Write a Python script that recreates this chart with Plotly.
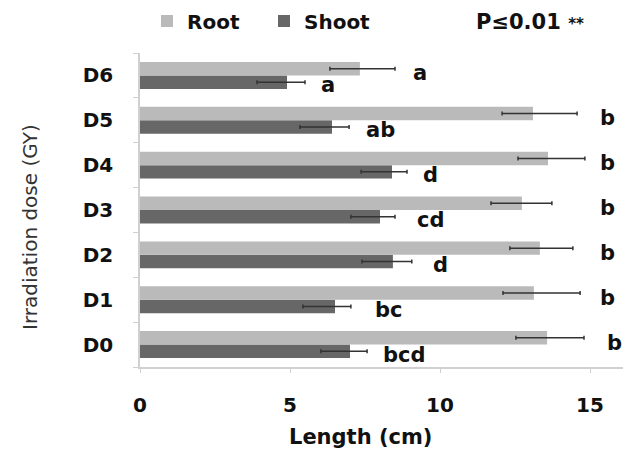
import plotly.graph_objects as go

categories = ["D0", "D1", "D2", "D3", "D4", "D5", "D6"]

root_values = [13.57, 13.13, 13.33, 12.73, 13.60, 13.10, 7.33]
root_err_plus = [1.23, 1.54, 1.10, 1.00, 1.23, 1.47, 1.17]
root_err_minus = [1.04, 1.03, 1.00, 1.03, 1.00, 1.03, 1.00]
root_letters = ["b", "b", "b", "b", "b", "b", "a"]
root_letter_x = [15.83, 15.57, 15.57, 15.57, 15.57, 15.57, 9.33]

shoot_values = [7.00, 6.50, 8.43, 8.00, 8.40, 6.40, 4.90]
shoot_err_plus = [0.57, 0.53, 0.63, 0.50, 0.50, 0.57, 0.60]
shoot_err_minus = [0.97, 1.07, 1.03, 0.97, 1.03, 1.07, 1.00]
shoot_letters = ["bcd", "bc", "d", "cd", "d", "ab", "a"]
shoot_letter_x = [8.80, 8.27, 10.00, 9.67, 9.67, 8.00, 6.27]

x_ticks = [0, 5, 10, 15]

ROOT_COLOR = "#bababa"
SHOOT_COLOR = "#676767"
ERR_COLOR = "#333333"
FONT = "DejaVu Sans"
W, H = 632, 452
ML, MR, MT, MB = 140, 9, 53, 85
PW, PH = W - ML - MR, H - MT - MB

fig = go.Figure()
fig.add_trace(go.Bar(
    y=categories, x=shoot_values, orientation="h", name="Shoot",
    marker=dict(color=SHOOT_COLOR, line=dict(width=0)),
    error_x=dict(type="data", symmetric=False, array=shoot_err_plus,
                 arrayminus=shoot_err_minus, color=ERR_COLOR, thickness=1.5, width=2),
))
fig.add_trace(go.Bar(
    y=categories, x=root_values, orientation="h", name="Root",
    marker=dict(color=ROOT_COLOR, line=dict(width=0)),
    error_x=dict(type="data", symmetric=False, array=root_err_plus,
                 arrayminus=root_err_minus, color=ERR_COLOR, thickness=1.5, width=2),
))

annotations = []
for cat, lx, lt in zip(categories, root_letter_x, root_letters):
    annotations.append(dict(x=lx, y=cat, xref="x", yref="y", text=lt, showarrow=False,
                            yshift=2, font=dict(family=FONT, size=21, color="#111111", weight="bold")))
for cat, lx, lt in zip(categories, shoot_letter_x, shoot_letters):
    annotations.append(dict(x=lx, y=cat, xref="x", yref="y", text=lt, showarrow=False,
                            yshift=-10, font=dict(family=FONT, size=21, color="#111111", weight="bold")))
annotations.append(dict(x=(30 - ML) / PW, y=(H - MB - 227) / PH, xref="paper", yref="paper",
                        xanchor="center", yanchor="middle",
                        text="Irradiation dose (GY)", textangle=-90, showarrow=False,
                        font=dict(family=FONT, size=20, color="#333333")))
annotations.append(dict(x=(530 - ML) / PW, y=1 + (MT - 22) / PH, xref="paper", yref="paper",
                        xanchor="center", yanchor="middle",
                        text="P≤0.01 <span style='font-size:15px'>**</span>",
                        showarrow=False, font=dict(family=FONT, size=21, color="#111111", weight="bold")))
annotations.append(dict(x=(360 - ML) / PW, y=-(437 - (H - MB)) / PH, xref="paper", yref="paper",
                        xanchor="center", yanchor="middle", text="Length (cm)", showarrow=False,
                        font=dict(family=FONT, size=21, color="#111111", weight="bold")))

fig.update_layout(
    width=W, height=H,
    margin=dict(l=ML, r=MR, t=MT, b=MB, autoexpand=False),
    paper_bgcolor="white", plot_bgcolor="white",
    barmode="group", bargap=0.4, bargroupgap=0,
    showlegend=True,
    legend=dict(orientation="h", traceorder="reversed",
                xref="container", x=147 / W, xanchor="left",
                yref="container", y=1 - 21 / H, yanchor="middle",
                entrywidth=72, entrywidthmode="pixels",
                font=dict(family=FONT, size=20, color="#111111", weight="bold"),
                bgcolor="rgba(0,0,0,0)", itemclick=False),
    annotations=annotations,
    xaxis=dict(range=[0, 16.1], tickvals=x_ticks, ticktext=[str(t) for t in x_ticks],
               showgrid=False, zeroline=False, showline=True, linecolor="#d0d0d0", linewidth=1.5,
               ticks="outside", ticklen=4, tickcolor="#d0d0d0", ticklabelstandoff=15,
               automargin=False,
               tickfont=dict(family=FONT, size=20, color="#111111", weight="bold"),
               fixedrange=True),
    yaxis=dict(range=[-0.5, 6.5], showgrid=False, zeroline=False, showline=True,
               linecolor="#d0d0d0", linewidth=1.5, ticks="outside", ticklen=5, tickcolor="#d0d0d0",
               tickson="boundaries", ticklabelstandoff=21, automargin=False,
               tickfont=dict(family=FONT, size=20, color="#111111", weight="bold"),
               fixedrange=True),
)

fig.write_html("out.html", config={"displayModeBar": False},
               post_script="document.body.style.margin='0';document.body.style.overflow='hidden';")
